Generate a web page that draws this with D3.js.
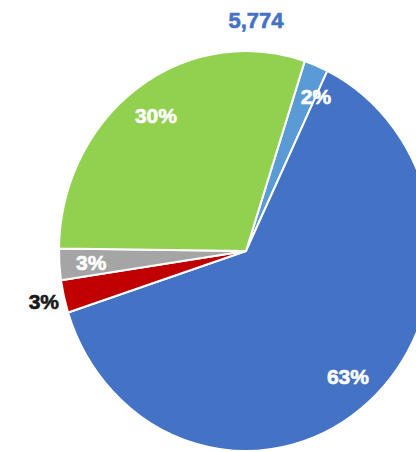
<!DOCTYPE html>
<html>
<head>
<meta charset="utf-8">
<script src="https://cdn.jsdelivr.net/npm/d3@7"></script>
<style>
  html, body { margin: 0; padding: 0; background: #fff; }
  svg { display: block; }
  .slice-label { font-family: "Liberation Sans", Arial, sans-serif; font-weight: bold; }
</style>
</head>
<body>
<div id="chart"></div>
<script>
// chart data
var categories = ["Segment E", "Segment A", "Segment D", "Segment C", "Segment B"];
var values = [120, 3630, 152, 147, 1725];
var colors = ["#5B9BD5", "#4472C4", "#C00000", "#A5A5A5", "#92D050"];

var width = 416, height = 452;
var cx = 246, cy = 251;
var radius = 200, squeeze = 0.935;   // pie is a little narrower than tall
var firstAngle = 18.3 * Math.PI / 180;

var svg = d3.select('#chart').append('svg')
	.attr('width', width)
	.attr('height', height);

var total = d3.sum(values);
var rows = categories.map(function(c, i) { return { name: c, value: values[i], color: colors[i] }; });

var pie = d3.pie()
	.sort(null)
	.value(function(d) { return d.value; })
	.startAngle(firstAngle)
	.endAngle(firstAngle + 2 * Math.PI);

var arcs = pie(rows);

var arc = d3.arc().innerRadius(0).outerRadius(radius);

var g = svg.append('g')
	.attr('transform', 'translate(' + cx + ',' + cy + ') scale(' + squeeze + ',1)');

g.selectAll('path')
	.data(arcs)
	.enter().append('path')
	.attr('d', arc)
	.attr('fill', function(d) { return d.data.color; })
	.attr('stroke', '#fff')
	.attr('stroke-width', 2)
	.attr('stroke-linejoin', 'round')
	.attr('vector-effect', 'non-scaling-stroke');

// labels: inside in white, the dark red one sits outside in black
var inner = d3.arc().innerRadius(166).outerRadius(166);
var outer = d3.arc().innerRadius(222).outerRadius(222);

svg.selectAll('.slice-label')
	.data(arcs)
	.enter().append('text')
	.attr('class', 'slice-label')
	.each(function(d) {
		var isOut = d.data.color === "#C00000";
		var p = (isOut ? outer : inner).centroid(d);
		if (d.index === 0) p = d3.arc().innerRadius(172).outerRadius(172)
			.centroid({ startAngle: d.endAngle, endAngle: d.endAngle });
		d3.select(this)
			.attr('x', cx + p[0] * squeeze)
			.attr('y', cy + p[1])
			.attr('fill', isOut ? '#1a1a1a' : '#fff')
			.attr('stroke', isOut ? '#1a1a1a' : '#fff')
			.attr('stroke-width', 0.6);
	})
	.attr('text-anchor', 'middle')
	.attr('dominant-baseline', 'central')
	.style('font-size', '21px')
	.text(function(d) { return Math.round(d.data.value / total * 100) + '%'; });

// total on top
svg.append('text')
	.attr('class', 'slice-label')
	.attr('x', 256)
	.attr('y', 20)
	.attr('text-anchor', 'middle')
	.attr('dominant-baseline', 'central')
	.attr('fill', '#4472C4')
	.attr('stroke', '#4472C4')
	.attr('stroke-width', 0.6)
	.style('font-size', '22px')
	.text(d3.format(',')(total));
</script>
</body>
</html>
